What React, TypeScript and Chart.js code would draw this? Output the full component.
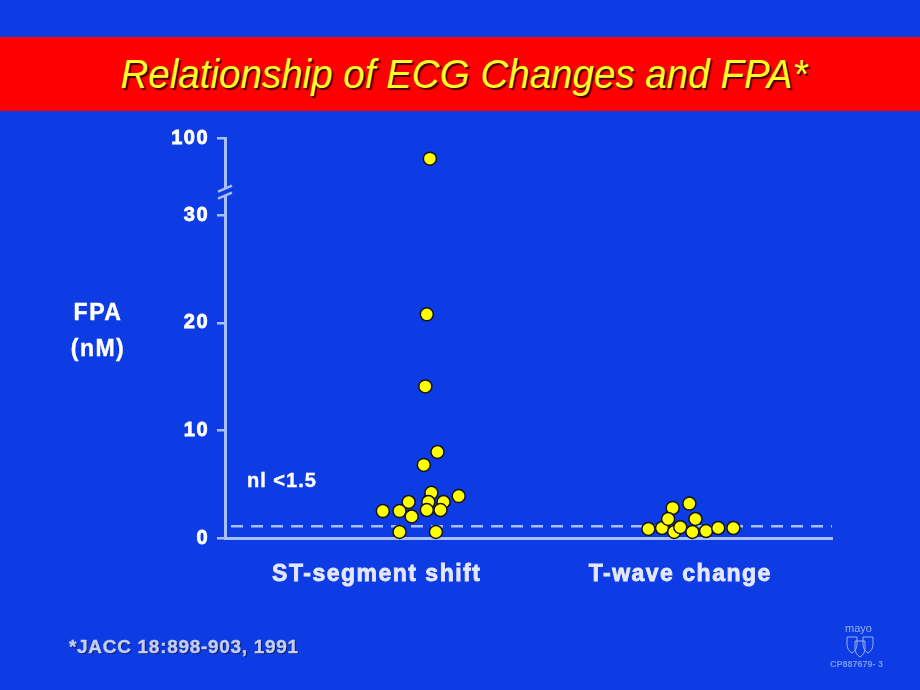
import React, { useEffect, useRef } from "react";
import { Chart, registerables } from "chart.js";

Chart.register(...registerables);

// ---- data ----
const CATEGORIES = ["ST-segment shift", "T-wave change"];
const CATEGORY_POS = [1, 3];
const Y_TICK_VALUES = [0, 10, 20, 30, 100];
const NORMAL_LIMIT = 1.1;

// ST-segment shift group (x jitter position, FPA nM)
const ST_X = [1.35, 1.33, 1.32, 1.40, 1.31, 1.36, 1.54, 1.21, 1.34, 1.44, 1.04, 1.15, 1.33, 1.42, 1.23, 1.15, 1.39];
const ST_Y = [80, 20.8, 14.1, 8.0, 6.8, 4.2, 3.9, 3.35, 3.35, 3.35, 2.5, 2.5, 2.6, 2.6, 2.0, 0.56, 0.56];

// T-wave change group
const TW_X = [2.79, 2.88, 2.95, 3.06, 2.92, 2.96, 3.00, 3.10, 3.08, 3.17, 3.25, 3.35];
const TW_Y = [0.84, 0.93, 2.8, 3.2, 1.77, 0.56, 1.0, 1.77, 0.56, 0.65, 0.93, 0.93];

// broken axis: linear 0..30, compressed segment above the break
const BREAK_AT = 32.4;
function toAxis(v: number): number {
  if (v <= 30) return v;
  return BREAK_AT + ((v - 50) / 50) * 4.8;
}

const BG = "rgb(14, 60, 228)";
const AXIS = "rgb(168, 190, 255)";
const FONT = "'Liberation Sans', Arial, Helvetica, sans-serif";
const XLABEL = "rgb(228, 232, 255)";

export default function App() {
  const ref = useRef<HTMLCanvasElement | null>(null);

  useEffect(() => {
    if (!ref.current) return;
    const overlay = {
      id: "overlay",
      beforeDraw(chart: any) {
        try {
          (chart.ctx as any).letterSpacing = "1.5px";
        } catch (e) {}
      },
      beforeDatasetsDraw(chart: any) {
        const { ctx, chartArea, scales } = chart;
        const y = scales.y;
        // dashed normal-limit line
        const yl = y.getPixelForValue(NORMAL_LIMIT);
        ctx.save();
        ctx.strokeStyle = AXIS;
        ctx.lineWidth = 2.5;
        ctx.setLineDash([12, 8]);
        ctx.beginPath();
        ctx.moveTo(chartArea.left + 6, yl);
        ctx.lineTo(chartArea.right, yl);
        ctx.stroke();
        ctx.restore();
        // axis break mark
        const yb = y.getPixelForValue(BREAK_AT);
        const x0 = chartArea.left;
        ctx.save();
        ctx.fillStyle = BG;
        ctx.beginPath();
        ctx.moveTo(x0 - 7, yb + 2);
        ctx.lineTo(x0 + 7, yb - 4);
        ctx.lineTo(x0 + 7, yb + 3);
        ctx.lineTo(x0 - 7, yb + 9);
        ctx.closePath();
        ctx.fill();
        ctx.strokeStyle = AXIS;
        ctx.lineWidth = 2.5;
        ctx.beginPath();
        ctx.moveTo(x0 - 7, yb + 2);
        ctx.lineTo(x0 + 7, yb - 4);
        ctx.moveTo(x0 - 7, yb + 9);
        ctx.lineTo(x0 + 7, yb + 3);
        ctx.stroke();
        ctx.restore();
      },
    };

    const pointStyle = {
      pointRadius: 6.5,
      pointBackgroundColor: "rgb(255, 255, 0)",
      pointBorderColor: "rgb(20, 20, 20)",
      pointBorderWidth: 1.5,
      showLine: false,
      clip: false as any,
    };

    const chart = new Chart(ref.current, {
      type: "scatter",
      data: {
        datasets: [
          {
            label: CATEGORIES[0],
            data: ST_X.map((x, i) => ({ x, y: toAxis(ST_Y[i]) })),
            ...pointStyle,
          },
          {
            label: CATEGORIES[1],
            data: TW_X.map((x, i) => ({ x, y: toAxis(TW_Y[i]) })),
            ...pointStyle,
          },
        ],
      },
      options: {
        animation: false,
        responsive: false,
        events: [],
        layout: { padding: { left: 165, right: 88, top: 138, bottom: 92 } },
        plugins: { legend: { display: false }, tooltip: { enabled: false } },
        scales: {
          x: {
            type: "linear",
            min: 0,
            max: 4,
            afterBuildTicks: (s: any) => {
              s.ticks = CATEGORY_POS.map((v) => ({ value: v }));
            },
            afterFit: (s: any) => {
              s.height = 60;
            },
            ticks: {
              callback: (_v: any, i: number) => CATEGORIES[i],
              color: XLABEL,
              textStrokeColor: XLABEL,
              textStrokeWidth: 0.8,
              font: { family: FONT, size: 23, weight: "bold" },
              padding: 23,
              maxRotation: 0,
              autoSkip: false,
            },
            grid: { display: true, drawOnChartArea: false, drawTicks: false, color: "rgba(0,0,0,0)" },
            border: { display: true, color: AXIS, width: 3 },
          },
          y: {
            type: "linear",
            min: 0,
            max: toAxis(100),
            afterBuildTicks: (s: any) => {
              s.ticks = Y_TICK_VALUES.map((v) => ({ value: toAxis(v) }));
            },
            afterFit: (s: any) => {
              s.width = 60;
            },
            ticks: {
              callback: (_v: any, i: number) => String(Y_TICK_VALUES[i]),
              color: "#ffffff",
              textStrokeColor: "#ffffff",
              textStrokeWidth: 0.8,
              font: { family: FONT, size: 20, weight: "bold" },
              padding: 8,
              autoSkip: false,
            },
            grid: { display: true, drawOnChartArea: false, drawTicks: true, tickLength: 8, color: AXIS, lineWidth: 2.5 },
            border: { display: true, color: AXIS, width: 3 },
          },
        },
      },
      plugins: [overlay],
    });
    return () => chart.destroy();
  }, []);

  const text: React.CSSProperties = {
    position: "absolute",
    fontFamily: FONT,
    fontWeight: "bold",
    margin: 0,
    whiteSpace: "nowrap",
    WebkitTextStroke: "0.4px currentColor",
  };

  return (
    <div style={{ position: "fixed", left: 0, top: 0, width: 920, height: 690, background: BG, overflow: "hidden" }}>
      <div
        style={{
          position: "absolute",
          left: 0,
          top: 37,
          width: 920,
          height: 74,
          background: "rgb(255, 0, 0)",
        }}
      />
      <div
        style={{
          position: "absolute",
          left: 0,
          top: 37,
          width: 928,
          height: 74,
          lineHeight: "74px",
          textAlign: "center",
          fontFamily: FONT,
          fontStyle: "italic",
          fontSize: 41,
          color: "rgb(255, 255, 40)",
          textShadow: "2px 2px 1px rgb(70, 0, 0)",
          transform: "scaleX(0.94)",
          whiteSpace: "nowrap",
        }}
      >
        Relationship of ECG Changes and FPA*
      </div>
      <canvas ref={ref} width={920} height={690} style={{ position: "absolute", left: 0, top: 0 }} />
      <div style={{ ...text, left: 48, top: 294, width: 100, textAlign: "center", color: "#fff", fontSize: 23, lineHeight: "36px", letterSpacing: 1.5 }}>
        FPA
        <br />
        (nM)
      </div>
      <div style={{ ...text, left: 247, top: 469, color: "#fff", fontSize: 20, letterSpacing: 1 }}>nl &lt;1.5</div>
      <div
        style={{
          ...text,
          left: 69,
          top: 636,
          color: "rgb(196, 206, 240)",
          fontSize: 19,
          letterSpacing: 0.7,
          textShadow: "1px 1px 1px rgb(10, 20, 90)",
        }}
      >
        *JACC 18:898-903, 1991
      </div>
      <div style={{ ...text, WebkitTextStroke: "0px", left: 845, top: 622, color: "rgb(150, 175, 240)", fontSize: 11, fontWeight: "normal" }}>mayo</div>
      <svg style={{ position: "absolute", left: 846, top: 636 }} width={28} height={24} viewBox="0 0 28 24">
        <g fill="none" stroke="rgb(150,175,240)" strokeWidth={1}>
          <path d="M1 1 L11 1 L11 8 Q11 14 6 17 Q1 14 1 8 Z" />
          <path d="M9 5 L19 5 L19 12 Q19 18 14 21 Q9 18 9 12 Z" />
          <path d="M17 1 L27 1 L27 8 Q27 14 22 17 Q17 14 17 8 Z" />
        </g>
      </svg>
      <div style={{ ...text, WebkitTextStroke: "0px", left: 830, top: 659, color: "rgb(120, 150, 245)", fontSize: 9 }}>CP887679- 3</div>
    </div>
  );
}
